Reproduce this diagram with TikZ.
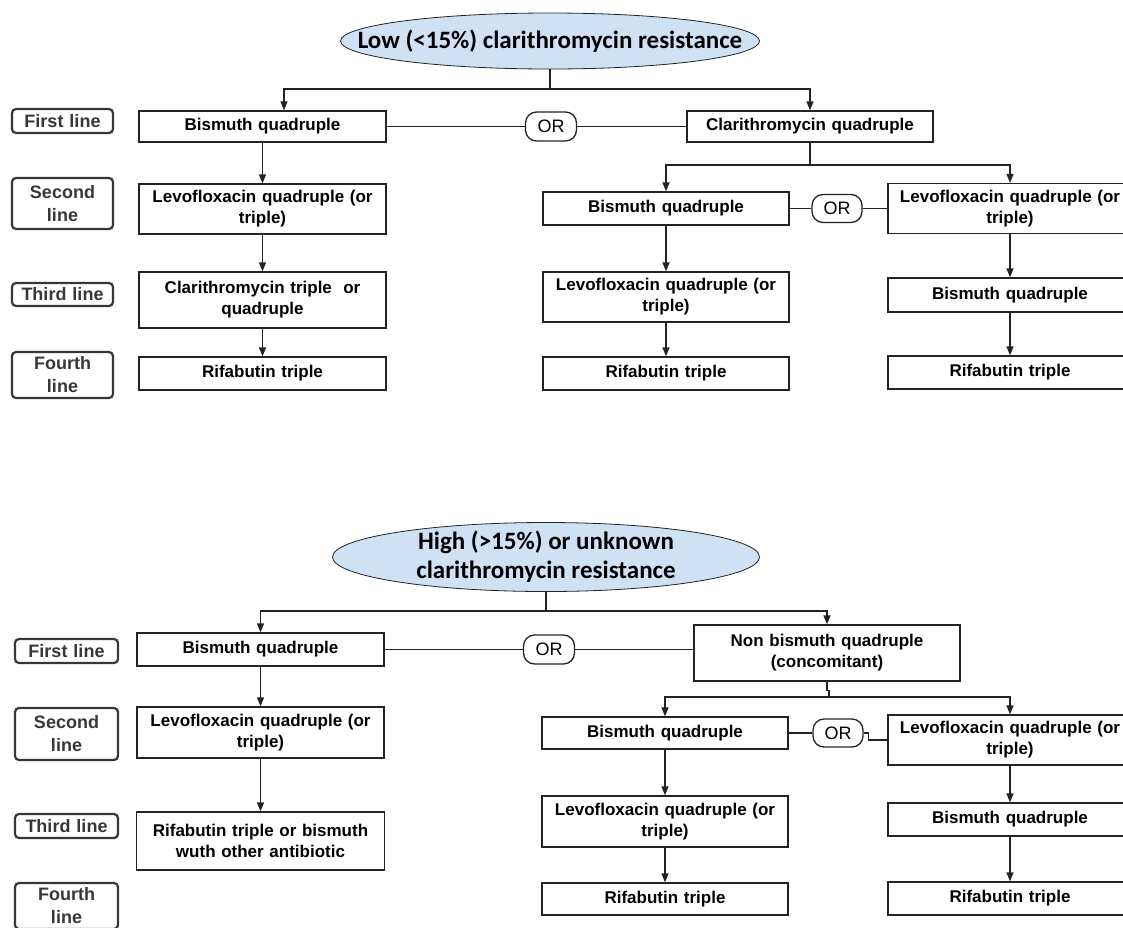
\documentclass[tikz,border=0pt]{standalone}
\usepackage{fontspec}
\setmainfont{Liberation Sans}
\newfontfamily\ovalfont{Carlito}
\usetikzlibrary{shapes.geometric,arrows.meta}
\definecolor{ovalblue}{RGB}{207,226,245}
\definecolor{linegray}{RGB}{35,35,35}
\definecolor{labelgray}{RGB}{55,55,55}
\begin{document}
\begin{tikzpicture}[x=1pt, y=-1pt,
  treat/.style 2 args={draw=linegray, line width=1.3pt, fill=white, inner sep=0pt,
    text width=#1, minimum height=#2, align=center, font=\bfseries\fontsize{17}{21}\selectfont},
  stage/.style 2 args={draw=labelgray, line width=2.2pt, rounded corners=4pt, inner sep=0pt,
    text width=#1, minimum height=#2, align=center, text=labelgray, font=\bfseries\fontsize{18}{23}\selectfont},
  orbox/.style={draw=linegray, line width=1.3pt, rounded corners=11pt, fill=white, inner sep=0pt,
    minimum width=51pt, minimum height=29pt, font=\fontsize{18}{20}\selectfont},
  oval/.style={ellipse, draw=linegray, line width=0.8pt, fill=ovalblue, inner sep=0pt},
  ovaltext/.style={align=center, font=\ovalfont\bfseries\fontsize{25}{29}\selectfont},
  con/.style={draw=linegray, line width=1.3pt},
  arr/.style={con, -{Triangle[length=9pt,width=7pt]}}]
\useasboundingbox (0,0) rectangle (1123,927);

%low resistance
\node[oval, minimum width=419pt, minimum height=56pt,
  label={[ovaltext]center:Low (<15\%) clarithromycin resistance}] (low) at (550,41) {};
\node[stage={101pt}{24pt}] (s1) at (62.5,121) {First line};
\node[stage={101pt}{51pt}] (s2) at (62.5,203.5) {Second\\line};
\node[stage={101pt}{23pt}] (s3) at (62.5,294.5) {Third line};
\node[stage={101pt}{46pt}] (s4) at (62.5,375) {Fourth\\line};

\node[treat={247pt}{31pt}] (b1) at (262.5,126.5) {Bismuth quadruple};
\node[treat={247pt}{50pt}] (l1) at (262.5,209) {Levofloxacin quadruple (or\\triple)};
\node[treat={247pt}{56pt}] (k1) at (262.5,300) {Clarithromycin triple~ or\\quadruple};
\node[treat={247pt}{33pt}] (r1) at (262.5,373.5) {Rifabutin triple};
\node[orbox] (or1) at (551,126.5) {OR};
\node[treat={246pt}{31pt}] (c1) at (810,126.5) {Clarithromycin quadruple};

\node[treat={246pt}{33pt}] (b2) at (666,208.5) {Bismuth quadruple};
\node[treat={246pt}{50pt}] (l2) at (666,297) {Levofloxacin quadruple (or\\triple)};
\node[treat={246pt}{33pt}] (r2) at (666,373.5) {Rifabutin triple};
\node[orbox, minimum width=50pt, minimum height=28pt] (or2) at (837,208.5) {OR};
\node[treat={244pt}{50pt}] (l3) at (1010,208.5) {Levofloxacin quadruple (or\\triple)};
\node[treat={244pt}{34pt}] (b3) at (1010,295) {Bismuth quadruple};
\node[treat={244pt}{33pt}] (r3) at (1010,372.5) {Rifabutin triple};

\coordinate (ja) at (550,89);
\coordinate (jb) at (810,165);
\draw[con] (low.south) -- (ja);
\draw[arr] (ja) -| ([xshift=21.5pt]b1.north);
\draw[arr] (ja) -| (c1.north);
\draw[con] (b1.east) -- (or1.west);
\draw[con] (or1.east) -- (c1.west);
\draw[arr] (b1) -- (l1);
\draw[arr] (l1) -- (k1);
\draw[arr] (k1) -- (r1);
\draw[con] (c1.south) -- (jb);
\draw[arr] (jb) -| (b2.north);
\draw[arr] (jb) -| (l3.north);
\draw[con] (b2.east) -- (or2.west);
\draw[con] (or2.east) -- (l3.west);
\draw[arr] (b2) -- (l2);
\draw[arr] (l2) -- (r2);
\draw[arr] (l3) -- (b3);
\draw[arr] (b3) -- (r3);

%high or unknown resistance
\node[oval, minimum width=427pt, minimum height=69pt,
  label={[ovaltext]center:High (>15\%) or unknown\\clarithromycin resistance}] (high) at (546,557) {};
\node[stage={103pt}{24pt}] (s5) at (66.5,651) {First line};
\node[stage={103pt}{52pt}] (s6) at (66.5,734) {Second\\line};
\node[stage={103pt}{24pt}] (s7) at (66.5,826) {Third line};
\node[stage={103pt}{46pt}] (s8) at (66.5,906) {Fourth\\line};

\node[treat={247pt}{33pt}] (b4) at (260.5,649.5) {Bismuth quadruple};
\node[treat={247pt}{51pt}] (l4) at (260.5,732.5) {Levofloxacin quadruple (or\\triple)};
\node[treat={248pt}{58pt}] (r4) at (260.5,841) {Rifabutin triple or bismuth\\wuth other antibiotic};
\node[orbox] (or3) at (549,649.5) {OR};
\node[treat={266pt}{56pt}] (n4) at (827,653) {Non bismuth quadruple\\(concomitant)};

\node[treat={246pt}{32pt}] (b5) at (665,733) {Bismuth quadruple};
\node[treat={246pt}{51pt}] (l5) at (665,821.5) {Levofloxacin quadruple (or\\triple)};
\node[treat={246pt}{32pt}] (r5) at (665,899) {Rifabutin triple};
\node[orbox, minimum width=50pt, minimum height=28pt] (or4) at (838,733) {OR};
\node[treat={244pt}{50pt}] (l6) at (1010,740) {Levofloxacin quadruple (or\\triple)};
\node[treat={244pt}{33pt}] (b6) at (1010,819.5) {Bismuth quadruple};
\node[treat={244pt}{33pt}] (r6) at (1010,898.5) {Rifabutin triple};

\coordinate (jc) at (546,611);
\coordinate (jd) at (829,697);
\draw[con] (high.south) -- (jc);
\draw[arr] (jc) -| (b4.north);
\draw[arr] (jc) -| (n4.north);
\draw[con] (b4.east) -- (or3.west);
\draw[con] (or3.east) -- (or3.east -| n4.west);
\draw[arr] (b4) -- (l4);
\draw[arr] (l4) -- (r4);
\draw[con] (n4.south) -- ++(0,9) -- ++(2,0) -- (jd);
\draw[arr] (jd) -| (b5.north);
\draw[arr] (jd) -| (l6.north);
\draw[con] (b5.east) -- (or4.west);
\draw[con] (or4.east) -- ++(5,0) |- (l6.west);
\draw[arr] (b5) -- (l5);
\draw[arr] (l5) -- (r5);
\draw[arr] (l6) -- (b6);
\draw[arr] (b6) -- (r6);
\end{tikzpicture}
\end{document}
